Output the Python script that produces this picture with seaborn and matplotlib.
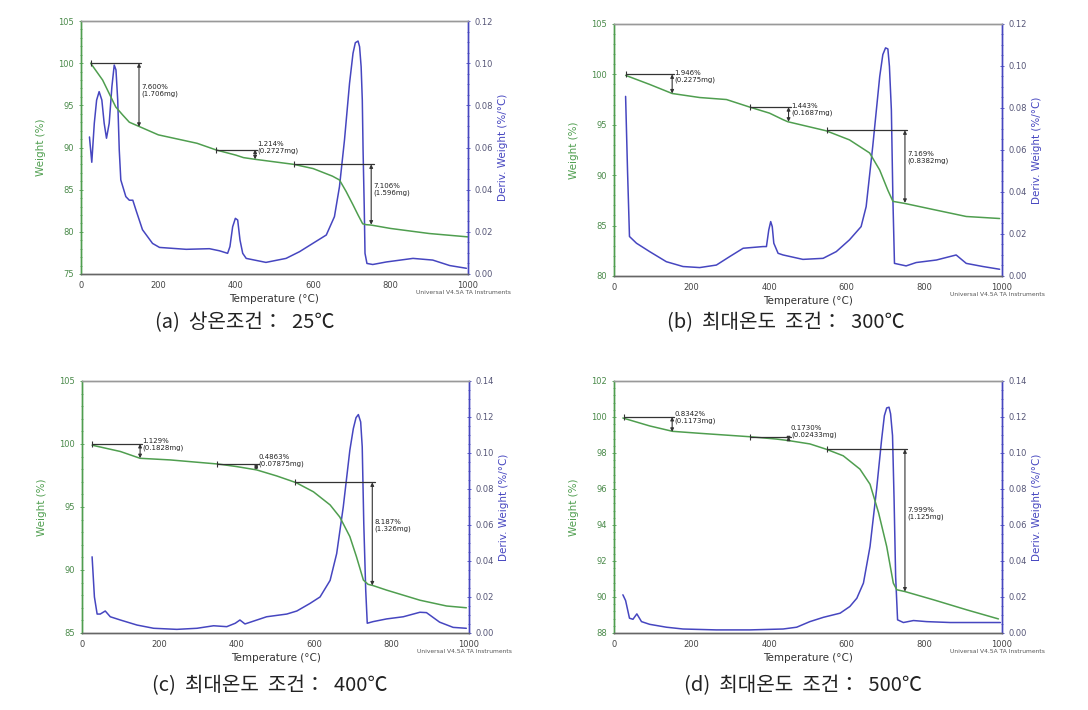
import numpy as np
import pandas as pd
import seaborn as sns
import matplotlib.pyplot as plt
from matplotlib.ticker import MultipleLocator

# ---- data ----
# (a) room temperature 25C
temp_a_w = [25, 56, 73, 90, 108, 125, 150, 200, 300, 350, 400, 420, 450, 500, 550, 600, 650, 668, 685,
            703, 716, 728, 737, 750, 800, 900, 1000]
weight_a = [100, 98.0, 96.4, 94.8, 93.85, 93.0, 92.5, 91.5, 90.5, 89.7, 89.1, 88.8, 88.6, 88.3, 88.0,
            87.5, 86.6, 86.15, 84.8, 83.2, 82.0, 80.95, 80.85, 80.8, 80.4, 79.8, 79.4]
temp_a_d = [22, 28, 34.5, 40.5, 47, 54, 60, 66, 73, 80, 86, 90.5, 95, 99, 103, 116, 125, 134, 142, 159,
            185, 203, 272, 332, 358, 379, 385, 392, 399, 405, 411, 418, 427, 478, 530, 565, 599, 634,
            655, 668, 681, 694, 703, 709, 716, 720, 724, 727, 729, 732, 734, 739, 754, 789, 858, 909,
            953, 996]
deriv_a = [0.065, 0.053, 0.0715, 0.0825, 0.0865, 0.0825, 0.0715, 0.0644, 0.0715, 0.0889, 0.0991, 0.0968,
           0.0825, 0.0588, 0.0446, 0.0367, 0.035, 0.035, 0.0304, 0.021, 0.0145, 0.0126, 0.0117, 0.012,
           0.011, 0.0098, 0.013, 0.0224, 0.0264, 0.0256, 0.0161, 0.0098, 0.0074, 0.0055, 0.0074, 0.0106,
           0.0145, 0.0185, 0.0272, 0.0414, 0.0636, 0.0904, 0.1047, 0.1097, 0.1105, 0.1078, 0.0983,
           0.0825, 0.0588, 0.0319, 0.0098, 0.005, 0.0045, 0.0057, 0.0074, 0.0066, 0.004, 0.0027]
steps_a = [(25, 100.0, 150, 92.45, 96.8, "7.600%\n(1.706mg)"),
           (350, 89.75, 450, 88.6, 90.0, "1.214%\n(0.2727mg)"),
           (550, 88.0, 750, 80.85, 85.0, "7.106%\n(1.596mg)")]

# (b) max temperature 300C
temp_b_w = [30, 92, 150, 221, 290, 350, 401, 436, 448, 547, 607, 659, 685, 706, 719, 749, 822, 908, 994]
weight_b = [99.9, 99.0, 98.1, 97.7, 97.5, 96.75, 96.15, 95.5, 95.3, 94.4, 93.5, 92.2, 90.5, 88.5, 87.4,
            87.2, 86.6, 85.9, 85.7]
temp_b_d = [30, 35, 40, 58, 92, 135, 178, 221, 264, 298, 333, 384, 393, 399, 404, 408, 412, 423, 436,
            487, 539, 573, 607, 637, 650, 667, 685, 693, 700, 706, 710, 715, 719, 723, 753, 779, 831,
            882, 908, 951, 994]
deriv_b = [0.0855, 0.050, 0.0188, 0.0156, 0.0116, 0.0068, 0.0045, 0.004, 0.0052, 0.0092, 0.0132, 0.014,
           0.014, 0.0219, 0.0259, 0.0235, 0.0156, 0.0108, 0.0100, 0.0079, 0.0084, 0.0116, 0.0172,
           0.0235, 0.033, 0.0617, 0.095, 0.1054, 0.1086, 0.1081, 0.0998, 0.0791, 0.0362, 0.006,
           0.0048, 0.0064, 0.0076, 0.010, 0.006, 0.0045, 0.0032]
steps_b = [(30, 100.0, 150, 98.1, 99.8, "1.946%\n(0.2275mg)"),
           (350, 96.75, 450, 95.3, 96.5, "1.443%\n(0.1687mg)"),
           (550, 94.45, 750, 87.25, 91.8, "7.169%\n(0.8382mg)")]

# (c) max temperature 400C
temp_c_w = [26, 99, 150, 228, 353, 400, 451, 503, 553, 598, 641, 666, 692, 709, 727, 739, 752, 787, 873,
            942, 993]
weight_c = [99.9, 99.4, 98.86, 98.73, 98.4, 98.2, 97.94, 97.46, 96.93, 96.2, 95.16, 94.2, 92.65, 91.06,
            89.2, 88.86, 88.76, 88.4, 87.6, 87.14, 87.0]
temp_c_d = [26, 32, 39, 47, 60, 73, 99, 142, 185, 245, 297, 340, 374, 396, 408, 421, 477, 529, 555, 589,
            615, 641, 658, 675, 692, 701, 708, 714, 720, 724, 728, 733, 737, 752, 787, 830, 873, 890,
            924, 959, 993]
deriv_c = [0.0423, 0.020, 0.0105, 0.0105, 0.0122, 0.009, 0.0072, 0.0044, 0.0026, 0.002, 0.0026, 0.004,
           0.0035, 0.0054, 0.0072, 0.005, 0.009, 0.0105, 0.0122, 0.0164, 0.020, 0.0292, 0.0441, 0.070,
           0.1015, 0.1135, 0.1196, 0.1213, 0.1172, 0.1034, 0.0609, 0.0239, 0.0054, 0.0063, 0.0078,
           0.009, 0.0115, 0.0113, 0.006, 0.0031, 0.0026]
steps_c = [(25, 100.0, 150, 98.87, 99.95, "1.129%\n(0.1828mg)"),
           (350, 98.4, 450, 97.95, 98.7, "0.4863%\n(0.07875mg)"),
           (550, 96.95, 750, 88.77, 93.5, "8.187%\n(1.326mg)")]

# (d) max temperature 500C
temp_d_w = [23, 92, 151, 221, 350, 419, 452, 505, 548, 591, 634, 660, 682, 703, 720, 729, 750, 824, 910, 991]
weight_d = [99.94, 99.5, 99.2, 99.09, 98.9, 98.77, 98.68, 98.5, 98.2, 97.84, 97.1, 96.26, 94.68, 92.8,
            90.77, 90.4, 90.3, 89.84, 89.28, 88.78]
temp_d_d = [23, 30, 40, 49, 59, 71, 92, 135, 178, 264, 350, 436, 471, 505, 540, 583, 608, 626, 643, 660,
            677, 690, 697, 703, 709, 713, 718, 722, 726, 731, 746, 772, 806, 867, 996]
deriv_d = [0.0212, 0.018, 0.0082, 0.0076, 0.0106, 0.0063, 0.0048, 0.0032, 0.0022, 0.0017, 0.0017, 0.0022,
           0.0032, 0.0063, 0.0087, 0.011, 0.0147, 0.0193, 0.0277, 0.048, 0.080, 0.1077, 0.1207, 0.125,
           0.1254, 0.1217, 0.1096, 0.0742, 0.0314, 0.0073, 0.0058, 0.0069, 0.0063, 0.0058, 0.0058]
steps_d = [(25, 100.0, 150, 99.17, 99.95, "0.8342%\n(0.1173mg)"),
           (350, 98.9, 450, 98.7, 99.2, "0.1730%\n(0.02433mg)"),
           (550, 98.2, 750, 90.3, 94.65, "7.999%\n(1.125mg)")]

captions = ["(a)  상온조건：  25℃", "(b)  최대온도  조건：  300℃",
            "(c)  최대온도  조건：  400℃", "(d)  최대온도  조건：  500℃"]
weight_limits = [(75, 105, 5), (80, 105, 5), (85, 105, 5), (88, 102, 2)]
deriv_limits = [(0, 0.12), (0, 0.12), (0, 0.14), (0, 0.14)]

sns.set_style("white")
plt.rcParams['font.family'] = ['DejaVu Sans', 'Noto Sans CJK KR']

GREEN = "#4f9e4f"
BLUE = "#4646c0"

fig = plt.figure(figsize=(10.88, 7.10), dpi=100)
boxes = [(0.0744, 0.6141, 0.3557, 0.3563), (0.5643, 0.6113, 0.3566, 0.355),
         (0.0754, 0.1085, 0.3557, 0.355), (0.5643, 0.1085, 0.3566, 0.355)]
caption_pos = [(0.225, 0.546), (0.722, 0.546), (0.248, 0.035), (0.738, 0.035)]

panels = [(temp_a_w, weight_a, temp_a_d, deriv_a, steps_a),
          (temp_b_w, weight_b, temp_b_d, deriv_b, steps_b),
          (temp_c_w, weight_c, temp_c_d, deriv_c, steps_c),
          (temp_d_w, weight_d, temp_d_d, deriv_d, steps_d)]

for i, (tw, w, td, d, steps) in enumerate(panels):
    ax = fig.add_axes(boxes[i])
    ax2 = ax.twinx()

    sns.lineplot(x=tw, y=w, ax=ax, color=GREEN, linewidth=1.1)
    sns.lineplot(x=td, y=d, ax=ax2, color=BLUE, linewidth=1.1)

    lo, hi, step = weight_limits[i]
    ax.set_xlim(0, 1000)
    ax.set_ylim(lo, hi)
    ax.set_yticks(np.arange(lo, hi + 0.1, step))
    ax.yaxis.set_minor_locator(MultipleLocator(step / 5))
    ax.set_xticks(range(0, 1001, 200))
    ax.xaxis.set_minor_locator(MultipleLocator(50))
    ax2.set_ylim(*deriv_limits[i])
    ax2.set_yticks(np.arange(0, deriv_limits[i][1] + 0.001, 0.02))
    ax2.yaxis.set_major_formatter(plt.FormatStrFormatter('%.2f'))
    ax2.yaxis.set_minor_locator(MultipleLocator(0.005))

    ax.tick_params(axis='y', colors=GREEN, labelsize=6, length=3, width=0.6, direction='inout')
    ax.tick_params(axis='y', which='minor', colors=GREEN, length=2, width=0.5, direction='inout')
    ax.tick_params(axis='x', colors='#555555', labelsize=6, length=3, width=0.6, direction='inout')
    ax.tick_params(axis='x', which='minor', colors='#555555', length=2, width=0.5, direction='inout')
    ax.tick_params(axis='x', labelcolor='#444444')
    ax2.tick_params(axis='y', colors=BLUE, labelsize=6, length=3, width=0.6, direction='inout')
    ax2.tick_params(axis='y', which='minor', colors=BLUE, length=2, width=0.5, direction='inout')
    ax2.tick_params(axis='y', labelcolor='#555577')
    ax.tick_params(axis='y', labelcolor='#4a8a4a')

    for a in (ax, ax2):
        a.spines['left'].set_color(GREEN)
        a.spines['right'].set_color(BLUE)
        a.spines['top'].set_color('#999999')
        a.spines['bottom'].set_color('#666666')
        for s in a.spines.values():
            s.set_linewidth(1.0)

    ax.set_xlabel("Temperature (°C)", fontsize=7.5, color='#333333', labelpad=3)
    ax.set_ylabel("Weight (%)", fontsize=7.5, color=GREEN, labelpad=9)
    ax2.set_ylabel("Deriv. Weight (%/°C)", fontsize=7.5, color=BLUE, labelpad=3)
    ax.text(1.11, -0.075, "Universal V4.5A TA Instruments", transform=ax.transAxes,
            fontsize=4.3, color='#555555', ha='right', va='center')

    # step-change annotations
    for x0, y0, xa, y1, ty, label in steps:
        ax.plot([x0, xa + 6], [y0, y0], color='#333333', linewidth=0.9)
        ax.plot([x0], [y0], marker='|', color='#333333', markersize=5, markeredgewidth=0.8)
        ax.annotate("", xy=(xa, y1), xytext=(xa, y0),
                    arrowprops=dict(arrowstyle='<|-|>', color='#333333', lw=0.8,
                                    mutation_scale=5, shrinkA=0, shrinkB=0))
        ax.text(xa + 6, ty, label, fontsize=5, color='#222222', ha='left', va='center',
                linespacing=1.1)

    ax.set_zorder(ax2.get_zorder() + 1)
    ax.patch.set_visible(False)

    cx, cy = caption_pos[i]
    fig.text(cx, cy, captions[i], fontsize=14.5, ha='center', va='center', color='#222222',
             family=['Noto Sans CJK KR', 'DejaVu Sans'])

fig.savefig("out.png", dpi=100)
